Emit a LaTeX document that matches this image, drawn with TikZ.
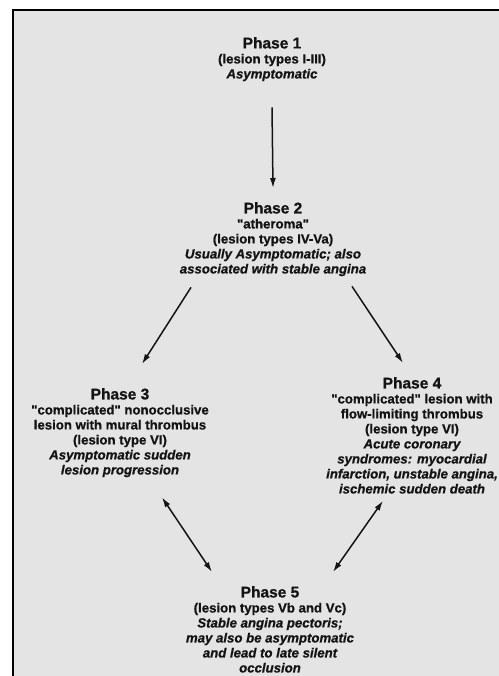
\documentclass[tikz,border=0pt]{standalone}
\usepackage{fontspec}
\setmainfont{Liberation Sans}[Ligatures=TeXOff,
  BoldFeatures={FakeBold=0.9}, BoldItalicFeatures={FakeBold=0.9}]
\usetikzlibrary{arrows.meta}

\definecolor{panel}{HTML}{E4E4E4}
\definecolor{ink}{HTML}{141414}
\newcommand{\phasehead}[1]{{\fontsize{15.5}{15}\selectfont #1}}

\begin{document}
\begin{tikzpicture}[x=1pt,y=-1pt,
  phase/.style={align=center, inner sep=0pt, anchor=north, text=ink,
    font=\bfseries\fontsize{13.2}{15}\selectfont},
  flow/.style={draw=ink, line width=1.5pt, -{Latex[length=10pt,width=6pt]}},
  twoway/.style={draw=ink, line width=1.5pt,
    {Latex[length=10pt,width=6pt]}-{Latex[length=10pt,width=6pt]}}]
\useasboundingbox (0,0) rectangle (498,676);

% panel and frame
\fill[panel] (12.5,10.5) rectangle (505,690);
\draw[line width=2pt] (12.5,690) -- (12.5,10.5) -- (505,10.5);

% phases
\node[phase] (p1) at (272,37) {\phasehead{Phase 1}\\
  (lesion types I-III)\\
  {\itshape Asymptomatic}};
\node[phase] (p2) at (273,202) {\phasehead{Phase 2}\\
  "atheroma"\\
  (lesion types IV-Va)\\
  {\itshape Usually Asymptomatic; also}\\
  {\itshape associated with stable angina}};
\node[phase] (p3) at (120,388) {\phasehead{Phase 3}\\
  "complicated" nonocclusive\\
  lesion with mural thrombus\\
  (lesion type VI)\\
  {\itshape Asymptomatic sudden}\\
  {\itshape lesion progression}};
\node[phase] (p4) at (412,377) {\phasehead{Phase 4}\\
  "complicated" lesion with\\
  flow-limiting thrombus\\
  (lesion type VI)\\
  {\itshape Acute coronary}\\
  {\itshape syndromes: myocardial}\\
  {\itshape infarction, unstable angina,}\\
  {\itshape ischemic sudden death}};
\node[phase] (p5) at (270,586) {\phasehead{Phase 5}\\
  (lesion types Vb and Vc)\\
  {\itshape Stable angina pectoris;}\\
  {\itshape may also be asymptomatic}\\
  {\itshape and lead to late silent}\\
  {\itshape occlusion}};

% arrows
\draw[flow] ([yshift=-26pt]p1.south) -- ([yshift=14pt]p2.north);
\draw[flow] ([xshift=-82pt,yshift=-11pt]p2.south) -- ([xshift=22pt,yshift=24pt]p3.north);
\draw[flow] ([xshift=79pt,yshift=-10pt]p2.south) -- ([xshift=-9pt,yshift=14pt]p4.north);
\draw[twoway] ([xshift=42pt,yshift=-20pt]p3.south) -- ([xshift=-58pt,yshift=14pt]p5.north);
\draw[twoway] ([xshift=-29pt,yshift=-7pt]p4.south) -- ([xshift=63pt,yshift=14pt]p5.north);

\end{tikzpicture}
\end{document}
